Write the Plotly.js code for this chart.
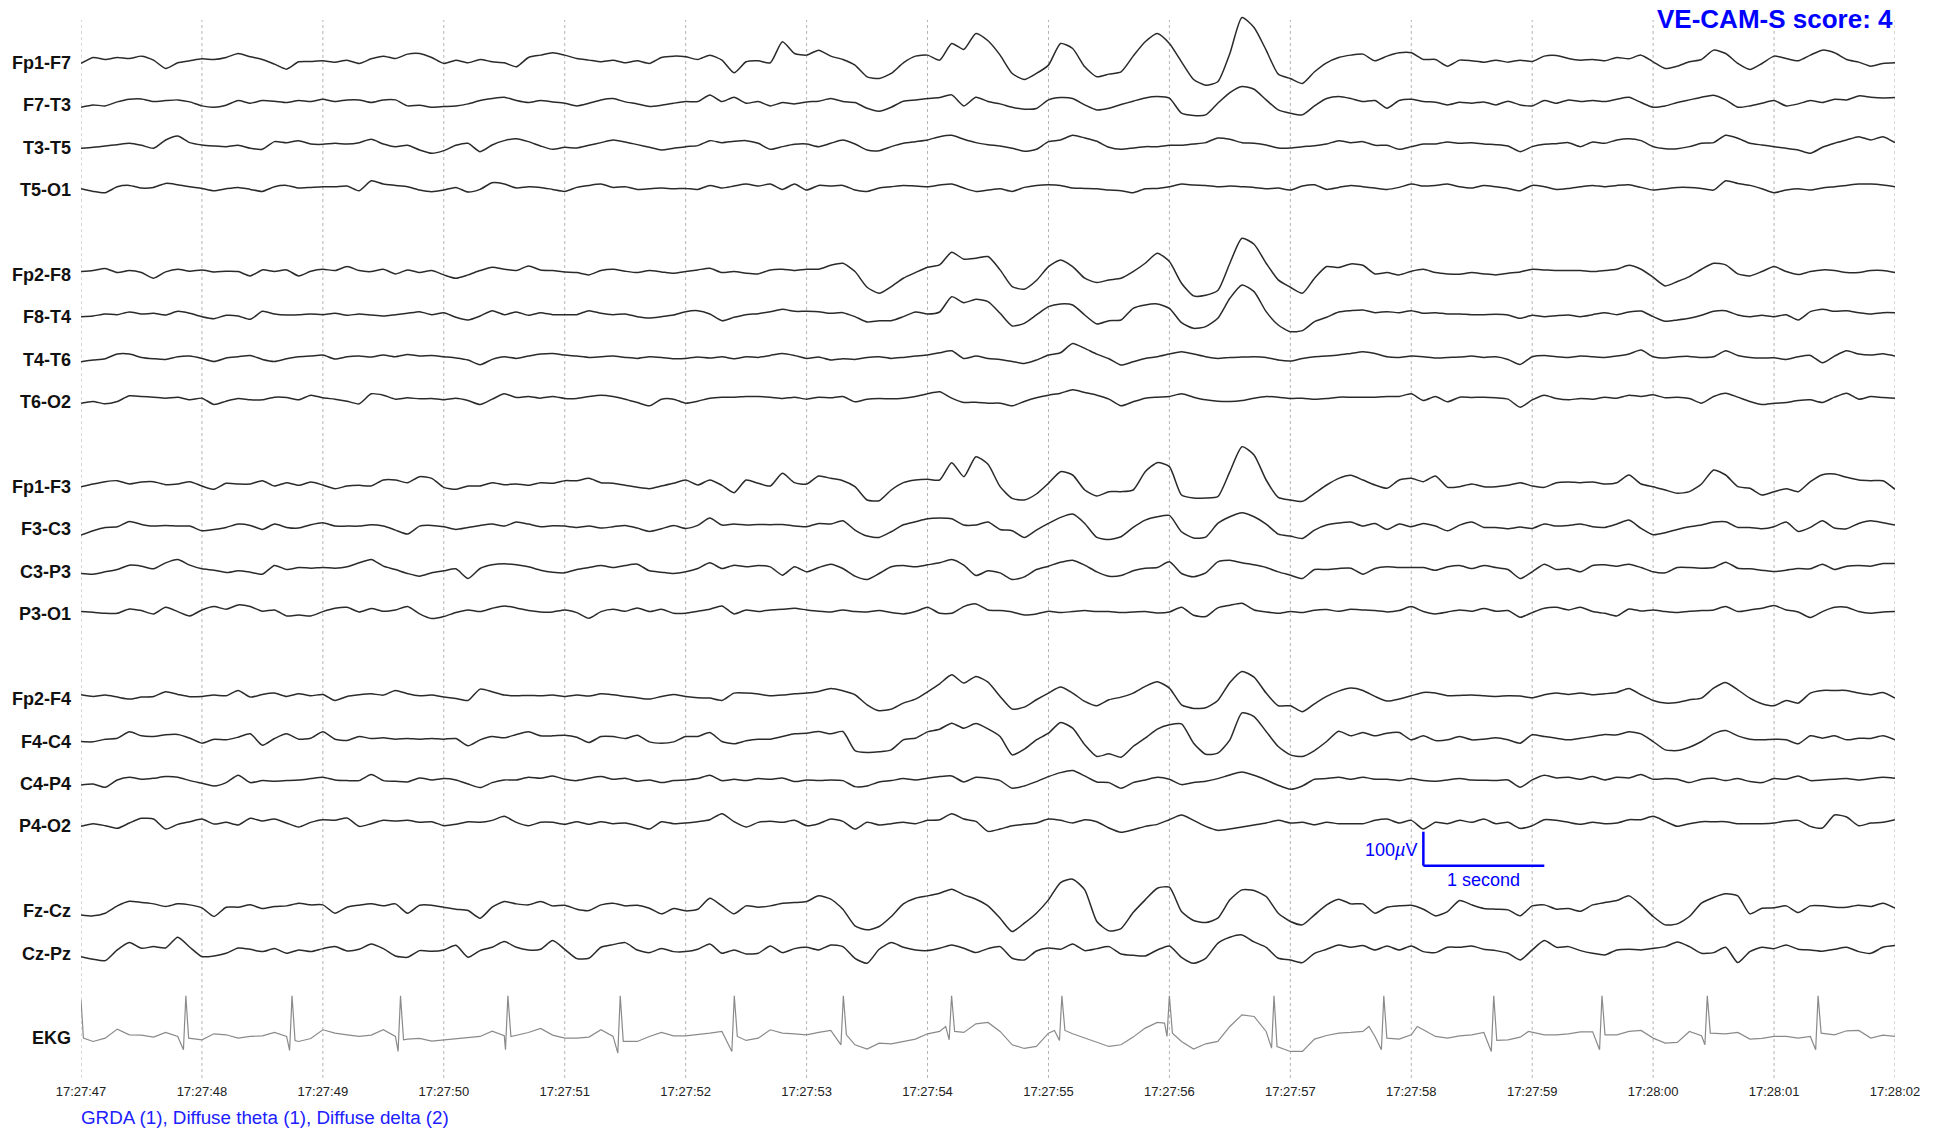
<!DOCTYPE html>
<html><head><meta charset="utf-8">
<script src="https://cdn.plot.ly/plotly-3.0.1.min.js"></script>
<style>html,body{margin:0;padding:0;background:#fff;}#chart{width:1944px;height:1131px;}</style>
</head><body><div id="chart"></div>
<script>
// ---------------- DATA ----------------
const tickLabels = ["17:27:47","17:27:48","17:27:49","17:27:50","17:27:51","17:27:52","17:27:53","17:27:54","17:27:55","17:27:56","17:27:57","17:27:58","17:27:59","17:28:00","17:28:01","17:28:02"];
const channelNames = ["Fp1-F7","F7-T3","T3-T5","T5-O1","Fp2-F8","F8-T4","T4-T6","T6-O2","Fp1-F3","F3-C3","C3-P3","P3-O1","Fp2-F4","F4-C4","C4-P4","P4-O2","Fz-Cz","Cz-Pz"];
const sampleStep = 0.1; // seconds between samples

const Fp1F7 = [-8,10,4,10,7,14,2,-23,-6,0, 6,4,10,22,12,4,-10,-25,-3,-2, 0,-4,2,-8,6,14,7,20,22,10, -8,2,-6,4,-3,-6,-18,10,17,24, 17,7,2,-3,2,-6,0,-8,10,14,
 12,4,17,2,-36,-3,0,-6,57,22, 17,32,14,4,-13,-48,-53,-38,-6,14, 17,2,52,34,82,60,17,-38,-56,-38, -13,52,37,-18,-48,-40,-33,14,57,82, 52,-3,-56,-73,-63,22,130,100,32,-40,
 -53,-68,-33,-6,10,17,20,0,14,24, 24,4,4,-16,2,0,-4,2,-4,2, -2,14,16,7,2,4,0,10,6,17, -3,-23,-16,-3,4,32,22,-8,-26,-8, 14,7,0,17,32,24,4,-4,-16,-8, -6];
const F7T3 = [-12,-5,-8,4,12,13,5,8,10,4, -8,-12,-6,8,0,8,6,2,8,5, 12,5,10,10,2,10,10,-8,-6,-12, -10,-8,-2,8,14,18,8,2,8,4, 0,-8,0,10,14,4,-2,-10,-6,0,
 5,5,25,5,18,0,5,-8,2,-2, 4,6,14,5,2,-15,-24,-12,6,10, 14,17,25,-8,18,5,-2,-12,-18,-16, 10,17,14,-5,-20,-15,-4,6,16,20, 15,-30,-37,-35,0,32,50,42,10,-20,
 -30,-35,-8,14,20,14,5,8,-15,8, 12,5,3,-5,3,0,4,-5,6,-5, -8,8,0,10,5,8,5,12,18,2, -12,-8,2,10,18,24,10,-12,-8,0, 8,-8,-2,8,2,12,10,22,18,16, 17];
const T3T5 = [-8,-5,-1,3,7,1,-8,17,29,9, 2,-1,-3,1,-8,-11,12,9,15,5, 4,7,5,9,19,5,-3,1,-13,-23, -15,1,7,-18,2,15,21,12,-1,-11, -5,-7,1,9,17,11,3,-5,-13,-8,
 -3,0,15,9,13,15,7,-11,-3,4, 5,-3,7,17,5,-13,-15,-3,7,12, 17,27,31,19,9,3,-1,-8,-17,-11, 12,17,31,23,13,-5,-11,-7,-3,-3, 1,1,5,9,23,19,9,7,2,-7,
 -7,-3,0,5,15,9,12,1,1,-11, -3,5,5,11,7,9,5,3,-1,-18, -3,4,6,9,-3,11,7,17,21,15, -3,-9,-9,-3,7,9,31,22,7,2, -3,-8,-13,-23,-5,7,17,27,17,27, 9];
const T5O1 = [-2,-10,-14,4,8,0,2,14,10,4, -1,-8,-2,2,-4,-10,4,8,0,2, 4,4,6,-8,22,12,8,4,-6,-11, -6,2,-12,-4,16,12,0,4,2,-4, -10,2,8,12,2,4,-4,-2,0,-2,
 -1,-4,8,0,6,12,6,12,-4,12, -6,8,6,8,-6,-10,0,4,8,6, 4,9,12,0,-10,-6,-2,-10,2,8, 10,8,0,-1,-2,-6,-8,-14,-2,-1, 4,12,9,8,4,6,4,2,-2,0,
 -6,6,10,-4,2,8,4,0,-4,2, 12,6,8,12,4,0,8,4,-1,-8, 8,4,-4,-1,4,8,4,8,10,2, -6,-2,2,2,-1,-6,22,14,8,-2, -14,-6,-2,-6,0,4,8,12,12,9, 4];
const Fp2F8 = [4,7,13,1,7,1,-16,3,11,5, 9,3,5,4,-9,9,4,9,-9,5, 11,7,19,7,4,11,-3,9,1,7, -6,-16,-6,7,17,11,7,21,9,7, 3,1,-6,7,11,5,1,7,3,-1,
 4,9,14,1,4,-1,-3,9,11,7, 11,11,23,29,4,-43,-61,-41,-16,1, 17,24,62,41,44,49,9,-41,-49,-23, 19,39,19,-16,-29,-21,-16,4,29,59, 34,-31,-69,-67,-53,29,104,86,29,-21,
 -43,-61,-16,19,16,27,23,-3,1,-6, 5,11,1,-3,-4,1,-3,-6,-1,3, 11,9,7,7,7,4,7,11,23,11, -13,-39,-26,-11,11,29,24,-3,-9,4, 19,4,-5,4,9,7,1,1,7,7, 1];
const F8T4 = [-4,-2,4,2,10,4,6,1,12,6, -4,-10,0,-2,-12,12,4,1,2,4, 2,6,0,4,1,-2,2,6,11,2, 8,-6,-14,-2,14,2,10,0,8,2, 2,2,14,6,2,4,-4,-8,-4,1,
 11,14,4,-16,-6,2,5,11,18,12, 12,11,6,8,-4,-20,-16,-16,-4,10, 4,10,56,38,48,41,6,-32,-24,1, 26,34,31,1,-26,-16,-14,21,31,34, 21,-22,-39,-34,-9,51,91,71,11,-29,
 -49,-46,-19,-6,10,14,16,8,11,8, 14,6,8,4,4,2,2,3,1,-9, 0,-4,-1,1,-4,2,8,2,10,13, -4,-18,-14,-9,0,12,14,1,-4,0, -4,2,-14,11,18,12,14,8,4,8, 8];
const T4T6 = [-12,-7,-3,11,11,1,-3,-5,3,5, -2,-11,-1,3,7,-5,-11,-3,3,5, 8,-4,3,5,2,8,3,10,5,7, 3,-1,-7,-21,-5,3,-2,5,11,13, 8,5,1,3,5,1,-2,3,1,-3,
 -2,2,-1,3,-3,3,1,7,13,7, -2,2,-7,-3,-5,1,3,-2,1,5, 8,15,21,-2,5,-2,-5,-11,-17,-7, 8,15,43,28,11,-3,-22,-12,-2,3, 11,18,11,3,-2,1,2,3,1,-7,
 -10,-2,3,5,8,13,18,13,3,1, 5,3,-1,1,2,5,1,3,-5,-20, 3,7,3,1,5,3,1,5,11,23, 3,-1,3,4,1,3,21,7,1,-1, 0,-5,3,7,-15,5,21,11,8,12, 5];
const T6O2 = [-9,-4,-11,-4,13,11,9,6,9,1, 6,-13,-3,5,1,1,9,8,1,15, 7,3,-3,-11,19,15,3,7,4,5, 1,6,-1,-13,3,19,8,11,6,11, 5,5,11,15,11,3,-7,-17,3,3,
 -9,-3,6,9,9,11,11,9,5,9, 3,9,7,11,-5,3,5,4,6,11, 19,25,6,-7,-6,-9,-9,-17,-4,7, 15,21,31,23,15,3,-17,-5,6,9, 11,19,9,1,-3,-4,-1,6,11,9,
 5,6,3,5,9,9,9,9,11,11, 19,-1,11,-5,9,8,9,7,3,-21, 1,15,5,1,5,3,9,6,15,11, 16,7,9,5,-9,11,21,9,-4,-13, -9,-7,-1,1,-7,9,21,3,11,8, 6];
const Fp1F3 = [-5,3,10,13,3,9,10,1,3,10, -3,-13,5,3,3,13,-3,7,-1,9, 0,-11,-3,-1,-3,15,15,7,25,20, -7,-13,-3,-3,7,1,3,-1,7,5, 13,13,20,7,5,-1,-7,-11,-3,5,
 15,0,15,-1,-23,15,5,-3,35,7, 3,27,20,13,-5,-45,-47,-15,7,15, 17,15,67,25,85,62,-5,-40,-45,-27, 5,40,30,-15,-33,-20,-20,-15,40,67, 55,-30,-39,-39,-35,40,115,90,15,-37,
 -45,-49,-25,0,20,29,15,0,-10,15, 20,10,27,-7,-5,3,-5,-5,-1,7, -3,-7,7,9,7,9,3,7,30,3, -5,-15,-25,-20,3,45,30,-5,-10,-30, -20,-11,-20,10,31,33,23,15,13,13, -13];
const F3C3 = [-23,-10,0,2,18,9,4,6,4,4, -10,-6,0,10,6,-6,10,0,-2,8, 14,4,4,4,8,4,-8,-20,4,6, 2,-6,0,6,10,4,16,10,2,5, 4,0,4,-2,2,6,-2,-12,-4,6,
 -3,6,28,7,10,7,9,8,9,4, 2,12,10,20,-8,-26,-30,-13,8,17, 26,28,26,7,7,16,-6,-10,-30,-8, 12,30,40,12,-30,-36,-28,0,22,32, 36,-13,-32,-29,12,32,44,32,10,-20,
 -26,-33,-8,7,13,16,4,12,-6,10, 2,12,4,-10,7,16,0,0,-4,1, -3,10,4,6,10,2,0,10,22,-3, -22,-16,-6,2,7,16,17,0,0,-4, 2,16,-12,0,20,-2,-4,12,20,14, 7];
const C3P3 = [-11,-13,-6,1,14,11,3,21,31,14, 3,-1,-8,-3,-7,-13,13,1,7,5, 7,5,9,21,31,11,1,-11,-19,-9, -3,3,-26,4,15,18,15,9,-1,-7, -9,1,7,13,7,13,17,-3,-7,-11,
 -6,4,21,4,14,9,13,9,-16,9, -6,7,17,4,-19,-29,-11,9,13,9, 15,21,31,14,-17,-3,-9,-29,-21,1, 11,23,29,14,-6,-19,-17,-3,5,7, 24,-11,-21,-9,24,29,21,15,7,-6,
 -16,-26,1,1,4,5,-13,4,9,7, 7,7,-1,9,13,4,13,7,1,-26, -6,17,1,4,-6,13,15,11,17,7, -6,-9,7,7,5,7,23,5,3,-1, -5,-1,4,3,17,1,11,13,11,19, 19];
const P3O1 = [2,0,-3,-3,10,5,-5,15,2,-11, 7,17,9,22,17,3,7,-11,-8,-11, 2,12,15,1,11,3,7,17,-5,-19, -13,-1,7,2,12,19,13,5,1,1, 7,-1,-18,2,9,3,13,2,9,-3,
 -3,3,9,19,-5,7,2,7,9,12, 7,3,1,7,2,1,5,-1,-5,2, 15,-3,-3,17,25,7,5,1,-8,-5, 3,-1,2,5,2,2,-1,1,2,-2, 1,15,-9,-13,13,21,27,7,1,-3,
 2,-1,6,8,3,9,7,5,1,5, 17,2,-5,1,7,3,11,3,5,-15, -1,12,15,7,15,2,-3,-11,10,4, 7,2,-1,3,5,7,17,2,7,12, 20,7,1,-16,2,15,15,2,-3,1, 2];
const Fp2F4 = [7,2,6,0,-6,0,2,16,8,1, 2,6,4,20,0,8,12,2,10,4, 8,-10,2,7,10,6,20,10,4,6, 0,-4,-10,24,16,6,4,5,4,6, 2,6,3,10,7,2,-2,-6,2,8,
 2,-2,-3,-10,12,12,9,4,6,10, 12,17,26,19,7,-23,-41,-36,-18,-6, 16,40,67,42,62,45,2,-36,-30,-8, 12,30,12,-13,-26,-8,0,12,32,46, 27,-23,-34,-32,-10,44,77,60,12,-26,
 -26,-44,-20,2,18,27,20,2,-12,-6, 4,14,12,4,5,6,4,2,4,3, -2,7,12,8,12,7,10,14,26,7, -10,-18,-16,-8,-3,27,44,22,-3,-20, -26,-10,-18,12,20,20,20,12,7,14, -3];
const F4C4 = [-6,-7,1,4,23,11,9,14,15,4, -11,1,-1,7,17,-17,3,17,1,4, 23,1,-3,9,3,5,1,3,1,3, 1,3,-19,-1,9,5,15,23,11,11, 13,7,-9,9,9,3,13,-7,-11,-7,
 9,9,21,-6,-13,-4,1,1,9,17, 19,24,17,24,-33,-39,-37,-31,-1,4, 23,31,49,34,48,32,9,-46,-29,-1, 19,51,34,-16,-51,-43,-53,-21,4,31, 44,47,-11,-44,-41,-1,80,69,24,-21,
 -46,-51,-33,-6,25,11,21,11,19,21, -1,11,-3,-1,9,-1,1,5,-1,-11, 14,9,4,-1,4,9,15,14,23,17, -6,-31,-33,-23,-6,17,27,11,1,-1, 1,-1,-13,11,4,11,-1,4,3,11, -1];
const C4P4 = [-9,-6,-16,6,14,8,11,16,14,4, -4,-12,-2,20,-2,4,2,4,6,10, 14,6,4,4,22,4,2,0,12,6, 10,6,-6,-17,-2,6,6,14,11,18, 8,4,11,16,8,11,2,6,-2,4,
 6,10,20,4,8,4,10,8,12,1, 6,4,6,4,-14,-12,0,4,10,6, 11,16,18,0,14,11,4,-19,-12,1, 16,28,34,18,0,-2,-19,-2,6,14, 8,-8,-2,2,10,21,30,20,6,-10,
 -22,-12,8,10,14,8,14,8,8,4, 10,4,2,6,10,6,5,4,6,-16, 6,20,12,14,8,16,6,14,12,22, 8,10,8,-2,8,11,4,10,1,-2, 10,8,18,4,6,8,10,6,10,14, 11];
const P4O2 = [-6,2,-4,-12,4,18,16,-14,0,8, 16,1,6,-2,18,10,16,4,-8,6, 14,12,19,-6,2,12,10,12,6,8, -4,0,8,6,12,24,6,-4,6,6, 0,8,0,8,2,4,-4,-14,8,2,
 4,8,14,32,8,-8,6,9,6,12, -4,2,16,9,-14,6,-2,2,6,2, 12,14,32,16,9,-21,-14,-4,0,4, 16,12,4,14,8,-11,-24,-16,-6,0, 14,28,12,-6,-18,-14,-8,-2,4,12,
 4,6,-1,6,2,2,2,12,16,4, 12,-14,6,2,12,6,16,2,6,-12, -4,14,12,6,0,6,2,4,14,14, 24,9,-6,2,8,8,8,2,2,2, 4,10,12,-6,-11,28,22,-4,4,6, 14];
const FzCz = [-17,-20,-12,10,24,20,16,8,16,13, 4,-22,6,6,13,2,8,10,18,13, 13,-12,6,12,16,10,16,-12,12,12, 6,0,-4,-27,6,23,16,13,23,10, 12,0,-4,13,18,10,12,3,-14,2,
 -5,0,33,10,-14,10,6,10,18,20, 23,40,30,0,-50,-62,-52,-22,16,33, 40,48,60,43,30,10,-27,-67,-42,-12, 28,80,90,58,-37,-65,-58,-10,28,63, 66,-7,-34,-40,-27,28,58,56,38,-12,
 -37,-47,-17,13,30,16,16,-12,6,10, 12,0,-20,-7,26,13,2,0,-2,-20, 10,13,0,2,-6,13,20,26,40,13, -22,-47,-44,-22,18,35,46,40,-14,3, 4,10,-10,10,10,6,6,12,8,18, 3];
const CzPz = [-15,-23,-27,5,27,10,15,11,43,13, -15,-13,-5,11,7,0,9,-5,5,0, 9,15,2,7,23,9,-13,-17,3,1, 5,19,-17,3,13,30,13,5,7,33, 7,-21,-20,13,21,27,5,-3,9,0,
 0,7,23,-5,5,-7,-5,17,-3,9, 13,5,20,15,-20,-35,7,27,13,5, 3,10,20,10,-3,9,15,-20,-25,2, 11,7,23,3,9,15,-7,-11,-13,5, 17,-17,-35,-20,25,43,50,29,13,-20,
 -25,-33,-5,7,20,13,18,5,17,5, 17,0,-3,13,13,17,7,3,-5,-25, 5,33,13,15,3,-5,-10,5,7,5, 10,15,29,15,-5,-3,13,-33,0,13, 9,20,7,5,1,7,13,0,-5,13, 18];

const ekgTime = [
 0,0.02,0.1,0.2,0.3,0.4,0.5,0.6,0.7,0.8,0.847,0.867,0.89,
 1.0,1.1,1.2,1.3,1.4,1.5,1.6,1.7,1.725,1.745,1.77,
 1.8,1.9,2.0,2.1,2.2,2.3,2.4,2.5,2.6,2.622,2.642,2.667,
 2.7,2.8,2.9,3.0,3.1,3.2,3.3,3.4,3.5,3.51,3.53,3.555,
 3.6,3.7,3.8,3.9,4.0,4.1,4.2,4.3,4.4,4.439,4.459,4.484,
 4.6,4.7,4.8,4.9,5.0,5.1,5.2,5.3,5.382,5.402,5.427,
 5.5,5.6,5.7,5.8,5.9,6.0,6.1,6.2,6.284,6.304,6.329,
 6.4,6.5,6.6,6.7,6.8,6.9,7.0,7.1,7.15,7.179,7.199,7.224,
 7.3,7.4,7.5,7.6,7.7,7.8,7.9,8.0,8.05,8.091,8.111,8.136,
 8.2,8.3,8.4,8.5,8.6,8.7,8.8,8.9,8.96,8.98,9.0,9.025,
 9.1,9.2,9.3,9.4,9.5,9.6,9.7,9.8,9.845,9.865,9.89,
 10.0,10.1,10.2,10.3,10.4,10.5,10.6,10.65,10.7,10.753,10.773,10.798,
 10.9,11.0,11.05,11.1,11.2,11.3,11.4,11.5,11.6,11.662,11.682,11.707,
 11.8,11.9,11.97,12.1,12.2,12.3,12.4,12.5,12.557,12.577,12.602,
 12.7,12.8,12.9,13.0,13.1,13.2,13.3,13.4,13.428,13.448,13.473,
 13.6,13.7,13.8,13.9,14.0,14.1,14.2,14.3,14.344,14.364,14.389,
 14.5,14.6,14.7,14.8,14.9,15.0];
const ekgValue = [
 110,-5,-15,-5,22,5,4,-2,12,0,-40,122,-5,
 -10,8,5,-5,0,2,12,0,-42,122,-12,
 -15,-6,20,10,5,0,4,20,0,-45,122,-10,
 -8,-6,-14,-10,-6,-3,0,16,2,-40,122,0,
 4,12,24,4,-5,-5,-2,20,0,-50,122,-15,
 -15,0,12,2,2,5,10,15,-45,122,0,
 -12,-5,20,10,8,5,12,18,-25,122,5,
 -25,-38,-20,-22,-15,-8,8,15,30,-10,122,15,
 12,38,42,15,-25,-36,-30,10,18,-12,122,18,
 8,-5,-18,-30,-25,-2,25,42,40,0,122,10,
 -15,-38,-22,-15,30,65,60,15,-35,122,-30,
 -45,-45,-8,3,10,12,15,30,0,-40,122,-5,
 -8,5,30,20,0,-5,2,5,12,-45,122,-12,
 -10,-2,15,5,5,8,14,14,-40,122,5,
 5,15,18,-5,-20,-18,15,2,-25,122,10,
 8,12,-8,-6,0,0,-5,0,-40,122,10,
 5,17,18,-5,4,0];

const channelData = [Fp1F7,F7T3,T3T5,T5O1,Fp2F8,F8T4,T4T6,T6O2,Fp1F3,F3C3,C3P3,P3O1,Fp2F4,F4C4,C4P4,P4O2,FzCz,CzPz];

// ---------------- LAYOUT GEOMETRY ----------------
const slotOf = [0,1,2,3,5,6,7,8,10,11,12,13,15,16,17,18,20,21];
const ekgSlot = 23;
const plotTopPx = 8, plotBottomPx = 1078, firstBaselinePx = 60.8, unitsPerPx = 3, gridTopPx = 20;
const slotSpacing = 42.42 * unitsPerPx;
function pxToY(p){ return (firstBaselinePx - p) * unitsPerPx; }
const yTop = pxToY(plotTopPx), yBottom = pxToY(plotBottomPx);

channelData.forEach((a,i)=>{ if(a.length!==151) throw new Error(channelNames[i]+" has "+a.length); });
if (ekgTime.length !== ekgValue.length) throw new Error("ekg mismatch "+ekgTime.length+" "+ekgValue.length);

const traces = channelData.map((vals,i)=>{
  const off = -slotOf[i]*slotSpacing;
  return {
    x: vals.map((v,k)=>k*sampleStep),
    y: vals.map(v=>v+off),
    type:'scatter', mode:'lines', hoverinfo:'skip', showlegend:false,
    line:{color:'#2a2a2a', width:1.5, shape:'spline', smoothing:0.6}
  };
});
traces.push({
  x: ekgTime, y: ekgValue.map(v=>v - ekgSlot*slotSpacing),
  type:'scatter', mode:'lines', hoverinfo:'skip', showlegend:false,
  line:{color:'#8a8a8a', width:1.2}
});

const FONT = 'Liberation Sans, Arial, Helvetica, sans-serif';
const BLUE = '#0000ff';
const annotations = [];
channelNames.concat(['EKG']).forEach((name,i)=>{
  const slot = i < slotOf.length ? slotOf[i] : ekgSlot;
  annotations.push({xref:'paper', x:0, xanchor:'right', xshift:-8, yref:'y', y:-slot*slotSpacing, yshift:-2, yanchor:'middle',
    text:'<b>'+name+'</b>', showarrow:false, font:{family:FONT, size:18, color:'#111'}});
});
const paperY = p => (plotBottomPx - p)/(plotBottomPx - plotTopPx);
annotations.push({xref:'paper', x:1, xanchor:'right', yref:'paper', y:paperY(19), yanchor:'middle',
  text:'<b>VE-CAM-S score: 4</b>', showarrow:false, font:{family:FONT, size:26, color:BLUE}});
annotations.push({xref:'paper', x:0, xanchor:'left', xshift:-2, yref:'paper', y:paperY(1117), yanchor:'middle',
  text:'GRDA (1), Diffuse theta (1), Diffuse delta (2)', showarrow:false, font:{family:FONT, size:18.8, color:'#2020ff'}});

// scale bar
const sbX = 11.1, sbTop = pxToY(831.7), sbBot = sbTop - 102;
annotations.push({xref:'x', x:sbX, xanchor:'right', xshift:-4, yref:'y', y:pxToY(850), yanchor:'middle',
  text:'100<i>µ</i>V', showarrow:false, font:{family:FONT, size:18, color:BLUE}});
annotations.push({xref:'x', x:sbX+0.5, xanchor:'center', yref:'y', y:pxToY(880), yanchor:'middle',
  text:'1 second', showarrow:false, font:{family:FONT, size:18, color:BLUE}});

const shapes = [];
for (let s=0; s<tickLabels.length; s++){
  shapes.push({type:'line', xref:'x', yref:'y', x0:s, x1:s, y0:yBottom, y1:pxToY(gridTopPx), layer:'below',
    line:{color:'#b4b4b4', width:1, dash:'dot'}});
}
shapes.push({type:'line', xref:'x', yref:'y', x0:sbX, x1:sbX, y0:sbTop, y1:sbBot, line:{color:BLUE, width:2.5}});
shapes.push({type:'line', xref:'x', yref:'y', x0:sbX, x1:sbX+1, y0:sbBot, y1:sbBot, line:{color:BLUE, width:2.5}});

const layout = {
  width:1944, height:1131,
  margin:{l:81, r:49, t:plotTopPx, b:1131-plotBottomPx, pad:0},
  paper_bgcolor:'#fff', plot_bgcolor:'#fff',
  xaxis:{range:[0,15], tickvals:tickLabels.map((_,i)=>i), ticktext:tickLabels, showgrid:false, zeroline:false, showline:false,
    ticks:'', ticklabelstandoff:4, tickfont:{family:FONT, size:13, color:'#222'}, fixedrange:true},
  yaxis:{range:[yBottom, yTop], visible:false, showgrid:false, zeroline:false, fixedrange:true},
  annotations: annotations, shapes: shapes, font:{family:FONT}
};
Plotly.newPlot('chart', traces, layout, {displayModeBar:false, staticPlot:true});
</script></body></html>
